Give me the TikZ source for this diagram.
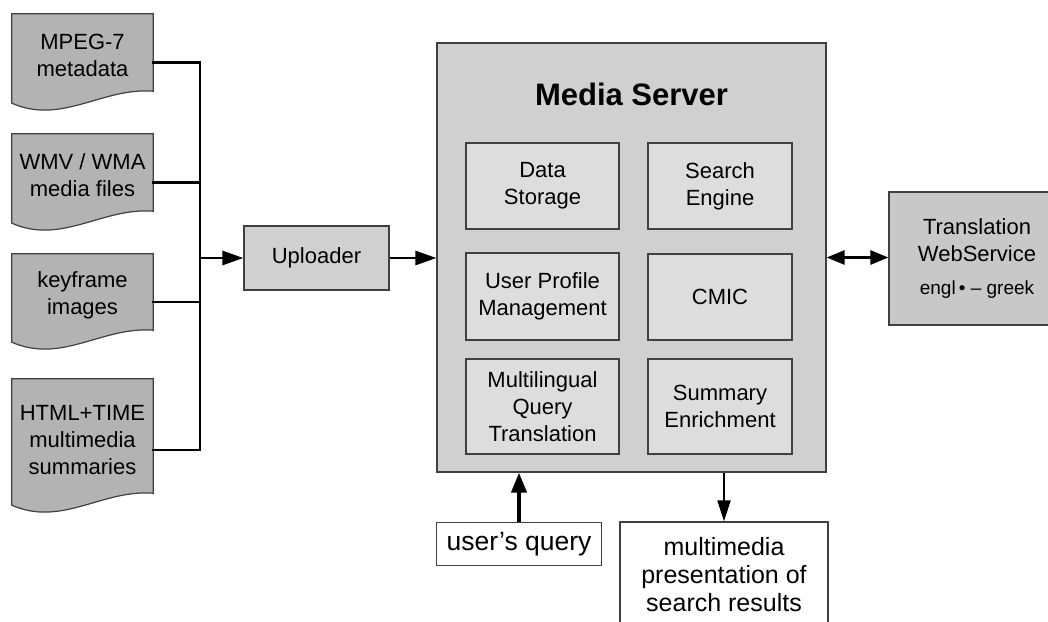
\documentclass[tikz,border=0pt]{standalone}
\usepackage{fontspec}
\setmainfont{Liberation Sans}
\usetikzlibrary{arrows.meta}
\definecolor{docgray}{RGB}{179,179,179}
\definecolor{srvgray}{RGB}{208,208,208}
\definecolor{innergray}{RGB}{221,221,221}
\definecolor{transgray}{RGB}{200,200,200}
\definecolor{edgegray}{RGB}{64,64,64}
\tikzset{
  txt/.style={font=\fontsize{22}{27}\selectfont, align=center, inner sep=0pt},
  bigtxt/.style={font=\fontsize{25}{28}\selectfont, align=center, inner sep=0pt},
  docbox/.style={txt, rectangle, minimum width=141pt},
  docshape/.style={fill=docgray, draw=edgegray, line width=1.2pt},
  graybox/.style={txt, rectangle, draw=edgegray, line width=1.2pt},
  conn/.style={line width=2.6pt, line cap=rect},
  arr/.style={line width=2.8pt, -{Triangle[length=21pt,width=14pt]}},
  arrthick/.style={line width=4pt, -{Triangle[length=20pt,width=15pt]}},
  arrthin/.style={line width=2pt, -{Triangle[length=21pt,width=13pt]}},
  arrdouble/.style={line width=2.6pt, {Triangle[length=18pt,width=14pt]}-{Triangle[length=18pt,width=14pt]}},
}
\begin{document}
\begin{tikzpicture}[x=1pt,y=-1pt]
\useasboundingbox (0,0) rectangle (1048,621);
\clip (0,0) rectangle (1048,621);
% documents
\node[docbox, minimum height=77pt]  (mpeg) at (82.5,52.5) {};
\node[docbox, minimum height=77pt]  (wmv)  at (82.5,172.5) {};
\node[docbox, minimum height=76pt]  (key)  at (82.5,292) {};
\node[docbox, minimum height=114pt] (html) at (82.5,436) {};
\foreach \n in {mpeg,wmv,key,html}
  \draw[docshape] (\n.south east) -- (\n.north east) -- (\n.north west) -- ([yshift=-12pt]\n.south west)
    .. controls ([xshift=50pt,yshift=-34pt]\n.south west) and ([xshift=-51pt,yshift=4pt]\n.south east) .. (\n.south east) -- cycle;
\node[txt] at ([yshift=-3pt]mpeg.center) {MPEG-7\\metadata};
\node[txt] at ([yshift=-3pt]wmv.center) {WMV / WMA\\media files};
\node[txt] at ([yshift=-3pt]key.center) {keyframe\\images};
\node[txt] at ([yshift=-4pt]html.center) {HTML+TIME\\multimedia\\summaries};
% uploader
\node[graybox, fill=srvgray, minimum width=145pt, minimum height=64pt] (up) at (316.5,258) {Uploader};
\coordinate (bus) at (200,258);
\draw[conn] ([yshift=-10pt]mpeg.east) -| (bus);
\draw[conn] ([yshift=-10pt]wmv.east) -| (bus);
\draw[conn] ([yshift=-10pt]key.east) -| (bus);
\draw[conn] ([yshift=-14pt]html.east) -| (bus);
\draw[arr] (bus) -- (up.west);
% media server
\node[graybox, fill=srvgray, minimum width=389pt, minimum height=429pt] (server) at (631.5,257.5) {};
\node[font=\fontsize{31}{36}\bfseries\selectfont, inner sep=0pt] (title) at (631.5,94) {Media Server};
\node[graybox, fill=innergray, minimum width=153pt, minimum height=86pt] (ds) at (542.5,186) {Data\\Storage};
\node[graybox, fill=innergray, minimum width=144pt, minimum height=86pt] (se) at (720,186) {Search\\Engine};
\node[graybox, fill=innergray, minimum width=153pt, minimum height=87pt] (upm) at (542.5,296.5) {User Profile\\Management};
\node[graybox, fill=innergray, minimum width=144pt, minimum height=86pt] (cmic) at (720,297) {CMIC};
\node[graybox, fill=innergray, minimum width=153pt, minimum height=95pt] (mqt) at (542.5,406.5) {Multilingual\\Query\\Translation};
\node[graybox, fill=innergray, minimum width=144pt, minimum height=95pt] (sum) at (720,406.5) {Summary\\Enrichment};
\draw[arr] (up.east) -- (up.east -| server.west);
% translation
\node[graybox, fill=transgray, minimum width=176pt, minimum height=133pt] (trans) at (977,258.5)
  {Translation\\WebService\\[6pt]{\fontsize{19}{22}\selectfont engl\,\textbullet\ – greek}};
\draw[arrdouble] (server.east) -- (server.east -| trans.west);
% bottom
\node[graybox, fill=white, minimum width=165pt, minimum height=43pt, font=\fontsize{26.5}{30}\selectfont] (uq) at (519,544) {user’s query};
\node[graybox, fill=white, minimum width=208pt, minimum height=130pt] (mm) at (724,587) {};
\node[bigtxt] (mmtext) at (724,575) {multimedia\\presentation of\\search results};
\draw[arrthick] (uq.north) -- (uq.north |- server.south);
\draw[arrthin] (mm.north |- server.south) -- (mm.north);
\end{tikzpicture}
\end{document}
